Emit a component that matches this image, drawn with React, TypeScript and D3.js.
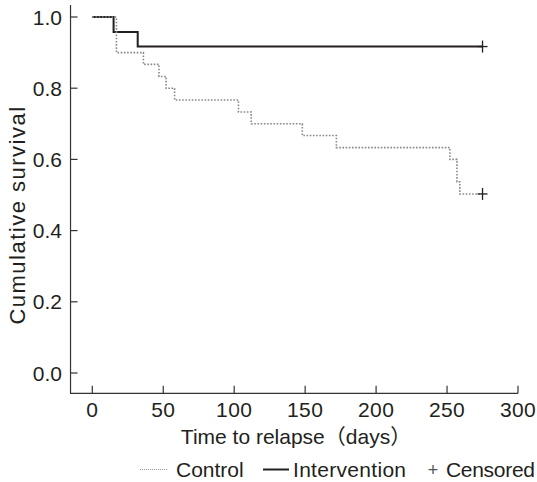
import * as d3 from "d3";

// Kaplan-Meier steps
const controlDays = [0, 17, 36, 47, 52, 58, 103, 112, 148, 172, 252, 257, 259, 275];
const controlSurv = [1, 0.9, 0.867, 0.833, 0.8, 0.767, 0.733, 0.7, 0.667, 0.633, 0.6, 0.537, 0.503, 0.503];
const interventionDays = [0, 15, 32, 275];
const interventionSurv = [1, 0.958, 0.917, 0.917];
const censoredDays = [275, 275];
const censoredSurv = [0.503, 0.917];

const xTicks = [0, 50, 100, 150, 200, 250, 300];
const yTicks = [0, 0.2, 0.4, 0.6, 0.8, 1.0];

const width = 537;
const height = 482;
const font = "'Liberation Sans', Arial, 'Noto Sans CJK JP', sans-serif";
const ink = "#231f20";

export default function App() {
  const x = d3.scaleLinear().domain([0, 300]).range([92.3, 518]);
  const y = d3.scaleLinear().domain([0, 1]).range([373, 17]);

  const line = d3
    .line<[number, number]>()
    .x((d) => x(d[0]))
    .y((d) => y(d[1]))
    .curve(d3.curveStepAfter);

  const control = controlDays.map((d, i) => [d, controlSurv[i]] as [number, number]);
  const intervention = interventionDays.map((d, i) => [d, interventionSurv[i]] as [number, number]);

  const axisY = y(-0.057);
  const axisX = x(-15.7);

  return (
    <svg
      width={width}
      height={height}
      style={{ position: "absolute", left: 0, top: 0, background: "#fff" }}
      fontFamily={font}
    >
      {/* axes */}
      <line x1={axisX} x2={x(300)} y1={axisY} y2={axisY} stroke="#333" strokeWidth={1.2} />
      <line x1={axisX + 0.5} x2={axisX + 0.5} y1={y(1.034)} y2={axisY} stroke="#333" strokeWidth={1.2} />
      {xTicks.map((t) => (
        <g key={t}>
          <line x1={x(t)} x2={x(t)} y1={axisY} y2={axisY - 7.5} stroke="#333" strokeWidth={1.2} />
          <text x={x(t)} y={417} textAnchor="middle" fontSize={21} letterSpacing={0.4} fill={ink}>
            {t}
          </text>
        </g>
      ))}
      {yTicks.map((t) => (
        <g key={t}>
          <line x1={axisX} x2={axisX + 7.5} y1={y(t)} y2={y(t)} stroke="#333" strokeWidth={1.2} />
          <text x={62} y={y(t) + 7.5} textAnchor="end" fontSize={21} fill={ink}>
            {t.toFixed(1)}
          </text>
        </g>
      ))}
      <text x={296} y={444} textAnchor="middle" fontSize={21} fill={ink}>
        Time to relapse（days）
      </text>
      <text
        transform={`translate(25,215) rotate(-90)`}
        textAnchor="middle"
        fontSize={22}
        letterSpacing={1.5}
        fill={ink}
      >
        Cumulative survival
      </text>

      {/* curves */}
      <path d={line(intervention) ?? ""} fill="none" stroke={ink} strokeWidth={2} />
      <path
        d={line(control) ?? ""}
        fill="none"
        stroke="#888"
        strokeWidth={1.6}
        strokeDasharray="1.6 1.6"
      />
      {censoredDays.map((d, i) => (
        <g key={i} stroke={ink} strokeWidth={1.3}>
          <line x1={x(d) - 5} x2={x(d) + 5} y1={y(censoredSurv[i])} y2={y(censoredSurv[i])} />
          <line x1={x(d)} x2={x(d)} y1={y(censoredSurv[i]) - 6} y2={y(censoredSurv[i]) + 6} />
        </g>
      ))}

      {/* legend */}
      <line x1={140} x2={168} y1={469.5} y2={469.5} stroke="#999" strokeWidth={1} strokeDasharray="1 1" />
      <text x={176} y={477} fontSize={21} fill={ink}>Control</text>
      <line x1={263} x2={289} y1={469.5} y2={469.5} stroke={ink} strokeWidth={2} />
      <text x={293} y={477} fontSize={21} letterSpacing={0.3} fill={ink}>Intervention</text>
      <text x={433} y={476} textAnchor="middle" fontSize={18} fill="#555">+</text>
      <text x={446} y={477} fontSize={21} letterSpacing={-0.3} fill={ink}>Censored</text>
    </svg>
  );
}
